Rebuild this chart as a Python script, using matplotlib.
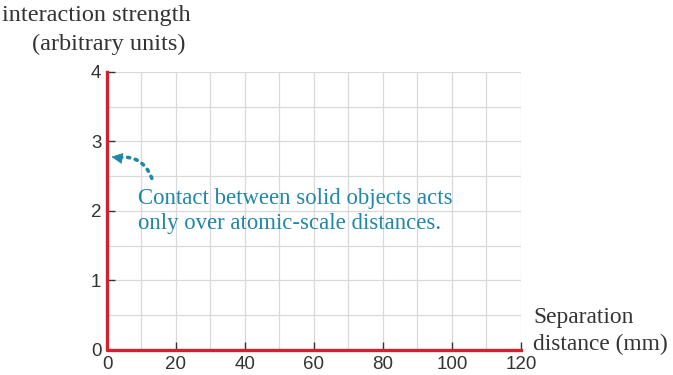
import matplotlib.pyplot as plt
import numpy as np

# Data: interaction strength vs separation distance
separation = [0, 0, 120]
strength = [4, 0, 0]
x_ticks = [0, 20, 40, 60, 80, 100, 120]
y_ticks = [0, 1, 2, 3, 4]

red = '#d3202f'
teal = '#1f87a8'
text_gray = '#333333'

fig = plt.figure(figsize=(6.73, 3.75), dpi=100)
ax = fig.add_axes([0.159, 0.0667, 0.615, 0.7413])

# Light grid every 10 units in x and 0.5 in y
ax.set_xticks(np.arange(0, 121, 10), minor=True)
ax.set_yticks(np.arange(0, 4.01, 0.5), minor=True)
ax.grid(which='both', color='#d9d9d9', linewidth=0.9)
ax.set_axisbelow(True)

ax.plot(separation, strength, color=red, linewidth=2.4,
        solid_joinstyle='round', clip_on=False, zorder=5)

ax.set_xlim(0, 120)
ax.set_ylim(0, 4)
for s in ax.spines.values():
    s.set_visible(False)

ax.set_xticks(x_ticks)
ax.set_yticks(y_ticks)
ax.tick_params(which='major', direction='in', length=6, width=1,
               color='#333333', labelsize=13.5, labelcolor=text_gray, pad=4)
ax.tick_params(which='minor', length=0)
for lab in ax.get_xticklabels() + ax.get_yticklabels():
    lab.set_family('Liberation Sans')

serif = 'Liberation Serif'
fig.text(0.003, 0.958, 'interaction strength', family=serif, fontsize=17.5,
         color=text_gray, ha='left', va='center')
fig.text(0.161, 0.882, '(arbitrary units)', family=serif, fontsize=17.5,
         color=text_gray, ha='center', va='center')
fig.text(0.792, 0.117, 'Separation\ndistance (mm)', family=serif, fontsize=16.8,
         color=text_gray, ha='left', va='center', linespacing=1.38)

ax.text(9, 2.0, 'Contact between solid objects acts\nonly over atomic-scale distances.',
        family=serif, fontsize=16.4, color=teal, ha='left', va='center',
        linespacing=1.2)
# dotted curved arrow body, then a solid head at the tip
ax.annotate('', xy=(2.8, 2.77), xytext=(13, 2.47),
            arrowprops=dict(arrowstyle='-', color=teal, linestyle=(0, (0.6, 1.6)),
                            linewidth=2.6, capstyle='round',
                            connectionstyle='arc3,rad=0.4',
                            shrinkA=0, shrinkB=0))
ax.annotate('', xy=(1.3, 2.78), xytext=(3.3, 2.765),
            arrowprops=dict(arrowstyle='-|>,head_length=0.6,head_width=0.3',
                            color=teal, linewidth=0.5, mutation_scale=12,
                            shrinkA=0, shrinkB=0))

fig.savefig('out.png', dpi=100)
